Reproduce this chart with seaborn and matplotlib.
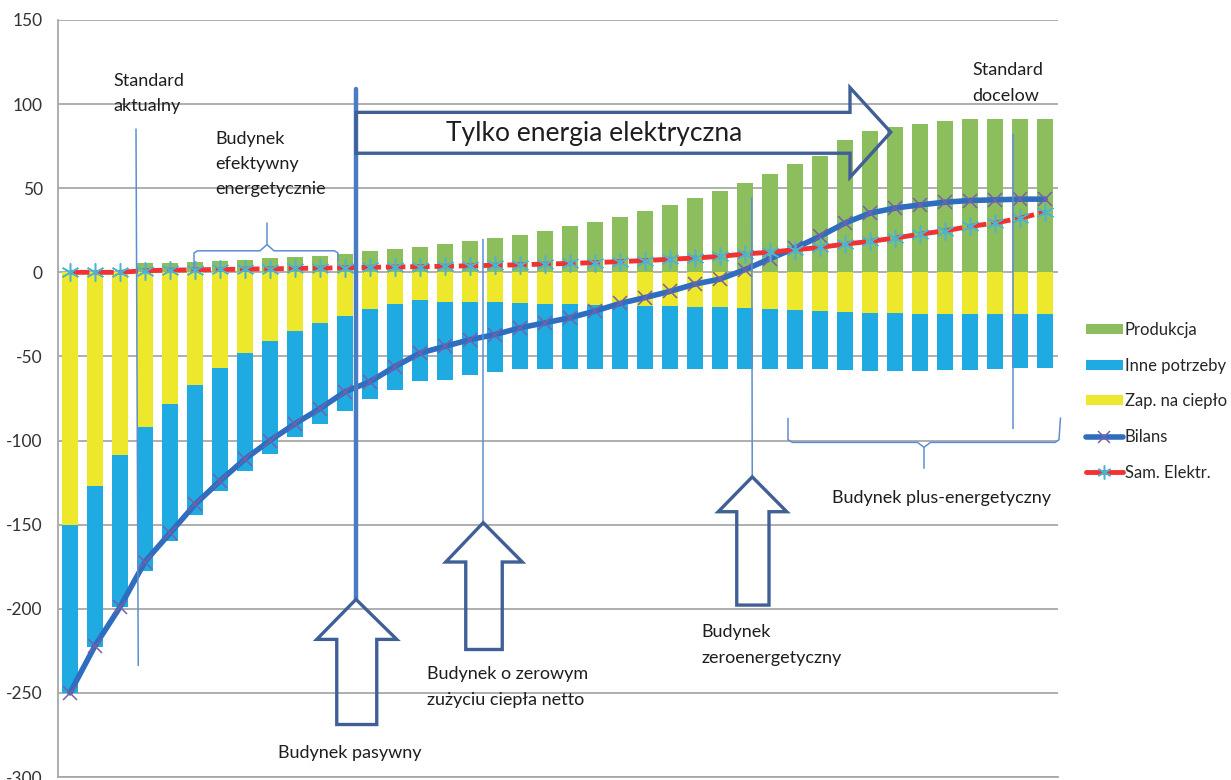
import matplotlib
matplotlib.use("Agg")
import matplotlib.pyplot as plt
import numpy as np
import pandas as pd
import seaborn as sns
from matplotlib.patches import Polygon, Patch
from matplotlib.lines import Line2D

# ---------------- data ----------------
stages = list(range(40))
produkcja = [0, 0, 0, 5.5, 5.5, 6, 7, 7.5, 8.5, 9,
             10, 11, 12.5, 13.8, 15.2, 16.8, 18.4, 20.4, 22.3, 24.7,
             27.3, 29.7, 33, 36.2, 40, 44, 48.6, 53.4, 58.7, 64.5,
             69, 78.7, 84, 86.6, 88.4, 90, 91.2, 91.2, 91.2, 91.2]
zap_na_cieplo = [150, 127, 108.5, 92, 78.5, 66.8, 56.7, 47.8, 41, 35,
                 30, 25.7, 21.7, 18.8, 16.2, 17.8, 17.8, 17.8, 18.2, 18.6,
                 18.8, 19.2, 19.6, 19.8, 20.2, 20.6, 20.8, 21.2, 21.8, 22.4,
                 23, 23.4, 24, 24.4, 24.6, 25, 25, 25, 25, 25]
inne_potrzeby = [100, 95.8, 90.5, 85.7, 81.5, 77.2, 73.3, 70.2, 66.7, 63,
                 60, 56.8, 53.8, 51.2, 48.4, 46.2, 43.5, 41.5, 39.5, 38.7,
                 38.4, 38, 37.6, 37.4, 37, 36.6, 36.4, 36, 35.4, 34.8,
                 34.7, 34.9, 34.7, 34.3, 34.1, 33.3, 33, 32.7, 32, 32]
bilans = [-250, -222, -199, -172, -155, -138, -124, -111, -100, -90,
          -81, -71, -65, -56, -48, -44, -40, -37, -33, -30,
          -27, -23, -18.5, -15, -11.3, -7, -4, 1.6, 8.1, 14.4,
          21.4, 29.3, 35.2, 38.2, 40.1, 41.7, 42.7, 43.1, 43.5, 43.5]
sam_elektr = [0, 0, 0, 1, 1.3, 1.5, 1.7, 1.9, 2.1, 2.3,
              2.5, 2.7, 3.0, 3.2, 3.4, 3.6, 3.9, 4.2, 4.5, 4.9,
              5.3, 5.8, 6.4, 7.0, 7.8, 8.5, 9.5, 10.9, 12, 13.4,
              14.8, 16.8, 18.4, 20.4, 22.7, 24.7, 27.3, 29.3, 32.2, 35.8]
y_ticks = [-300, -250, -200, -150, -100, -50, 0, 50, 100, 150]
series_labels = ["Produkcja", "Inne potrzeby", "Zap. na ciepło", "Bilans", "Sam. Elektr."]

df = pd.DataFrame({"etap": stages, "produkcja": produkcja,
                   "zap": zap_na_cieplo, "inne": inne_potrzeby,
                   "bilans": bilans, "sam": sam_elektr})
df["zap_neg"] = -df["zap"]
df["razem_neg"] = -(df["zap"] + df["inne"])

# ---------------- style ----------------
sns.set_style("white")
plt.rcParams["font.family"] = ["Lato", "DejaVu Sans"]

GREEN = "#8DBE5E"
BLUE = "#1FAAE1"
YELLOW = "#EEE82C"
LINE_BLUE = "#2E6DBF"
PURPLE = "#7A5FA8"
RED = "#F03232"
CYAN = "#4BB4D0"
ARROW = "#3F5F96"
THIN = "#5E8ED2"
TXT = "#1E1E1E"

fig = plt.figure(figsize=(12.31, 7.80), dpi=100)
ax = fig.add_axes([58 / 1231, 1 - 777 / 780, 1000 / 1231, 757 / 780])

bw = 0.66
sns.barplot(data=df, x="etap", y="razem_neg", color=BLUE, saturation=1,
            width=bw, errorbar=None, ax=ax, linewidth=0, zorder=2)
sns.barplot(data=df, x="etap", y="zap_neg", color=YELLOW, saturation=1,
            width=bw, errorbar=None, ax=ax, linewidth=0, zorder=2)
sns.barplot(data=df, x="etap", y="produkcja", color=GREEN, saturation=1,
            width=bw, errorbar=None, ax=ax, linewidth=0, zorder=2)

sns.lineplot(data=df, x="etap", y="bilans", color=LINE_BLUE, lw=4,
             marker="x", markersize=10, markeredgecolor=PURPLE,
             markeredgewidth=1.1, ax=ax, zorder=4, legend=False)
sns.lineplot(data=df, x="etap", y="sam", color=RED, lw=3.5,
             marker=(6, 2, 0), markersize=13, markeredgecolor=CYAN,
             markeredgewidth=1.1, ax=ax, zorder=5, legend=False)
ax.lines[-1].set_dashes([4, 1])

ax.set_xlim(-0.48, 39.52)
ax.set_ylim(-300, 150)
ax.set_yticks(y_ticks)
ax.set_yticklabels([str(v) for v in y_ticks], fontsize=12.5, color="#333333")
ax.set_xticks([])
ax.set_xlabel("")
ax.set_ylabel("")
ax.tick_params(axis="y", length=0, pad=11)
ax.yaxis.grid(True, color="#A8A8A8", lw=1.3, zorder=0)
ax.set_axisbelow(True)
for s in ["top", "right"]:
    ax.spines[s].set_visible(False)
ax.spines["left"].set_color("#A8A8A8")
ax.spines["bottom"].set_color("#A8A8A8")
ax.spines["left"].set_linewidth(1.3)
ax.spines["bottom"].set_linewidth(1.3)

# ---------------- annotations ----------------
def lines_text(x, ys, texts, fs=13, **kw):
    for y, t in zip(ys, texts):
        ax.text(x, y, t, fontsize=fs, ha="left", va="center", color=TXT,
                zorder=7, **kw)

def thin(xs, ys, lw=1.1, color=THIN):
    ax.plot(xs, ys, color=color, lw=lw, zorder=6, solid_capstyle="butt",
            clip_on=False)

def up_arrow(tip_x, tip_y, head_y, hx0, hx1, sx0, sx1, bot_y):
    pts = [(tip_x, tip_y), (hx1, head_y), (sx1, head_y), (sx1, bot_y),
           (sx0, bot_y), (sx0, head_y), (hx0, head_y)]
    ax.add_patch(Polygon(pts, closed=True, fill=False, edgecolor=ARROW,
                         lw=2.4, zorder=6, joinstyle="miter"))

# Standard aktualny
lines_text(1.73, [114, 98.6], ["Standard", "aktualny"])
thin([2.64, 2.73], [85.5, -234])

# Budynek efektywny energetycznie
lines_text(5.8, [79.4, 64.5, 49.6], ["Budynek", "efektywny", "energetycznie"])
thin([4.96, 4.96, 5.1, 7.6, 7.88, 7.88], [2.2, 11.5, 12.8, 12.8, 16.5, 29.6])
thin([7.88, 8.16, 10.58, 10.72, 10.72], [16.5, 12.8, 12.8, 11.5, 6.5])

# thick vertical line + passive house arrow
ax.plot([11.44, 11.44], [109.2, -194.4], color="#4A7CC4", lw=3.2, zorder=6)
up_arrow(11.44, -194.4, -218.2, 9.87, 13.07, 10.67, 12.27, -268.8)
lines_text(8.32, [-285.7], ["Budynek pasywny"])

# big right arrow
pts = [(11.44, 95.1), (31.2, 95.1), (31.2, 109.8), (32.83, 83.3),
       (31.2, 56.5), (31.2, 70.8), (11.44, 70.8)]
ax.add_patch(Polygon(pts, closed=True, fill=False, edgecolor=ARROW, lw=2.4,
                     zorder=6, joinstyle="miter"))
ax.text(20.96, 82.6, "Tylko energia elektryczna", fontsize=19, ha="center",
        va="center", color=TXT, zorder=7)

# zero net heat
thin([16.53, 16.53], [19.9, -148.8])
up_arrow(16.53, -148.8, -172.2, 15.03, 18.09, 15.83, 17.29, -224.2)
lines_text(14.27, [-239, -254.5], ["Budynek o zerowym", "zużyciu ciepła netto"])

# zero energy
thin([27.27, 27.29], [44.6, -121.6])
up_arrow(27.29, -121.6, -142.3, 25.93, 28.67, 26.67, 27.96, -197.8)
lines_text(25.27, [-213.7, -229.2], ["Budynek", "zeroenergetyczny"])

# plus-energy brace
thin([28.72, 28.72, 28.9, 33.9, 34.16, 34.16], [-86.5, -99.5, -101.1, -101.1, -104, -116.8])
thin([34.16, 34.42, 39.4, 39.56, 39.62], [-104, -101.1, -101.1, -99.5, -86.3])
lines_text(30.49, [-134.3], ["Budynek plus-energetyczny"])

# Standard docelowy
thin([37.72, 37.72], [82.4, -93])
lines_text(36.1, [120.5, 104.8], ["Standard", "docelow"])

# ---------------- legend ----------------
handles = [
    Patch(facecolor=GREEN, edgecolor="none"),
    Patch(facecolor=BLUE, edgecolor="none"),
    Patch(facecolor=YELLOW, edgecolor="none"),
    Line2D([], [], color=LINE_BLUE, lw=4, marker="x", markersize=9,
           markeredgecolor=PURPLE, markeredgewidth=1.1),
    Line2D([], [], color=RED, lw=3.5, marker=(6, 2, 0), markersize=10,
           markeredgecolor=CYAN, markeredgewidth=1.1),
]
fig.legend(handles, series_labels, loc="upper left",
           bbox_to_anchor=(1086 / 1231, 1 - 322 / 780), frameon=False,
           fontsize=12, handlelength=2.2, handleheight=0.55,
           handletextpad=0.12, labelspacing=1.18, borderpad=0,
           borderaxespad=0)

fig.savefig("out.png", dpi=100)
